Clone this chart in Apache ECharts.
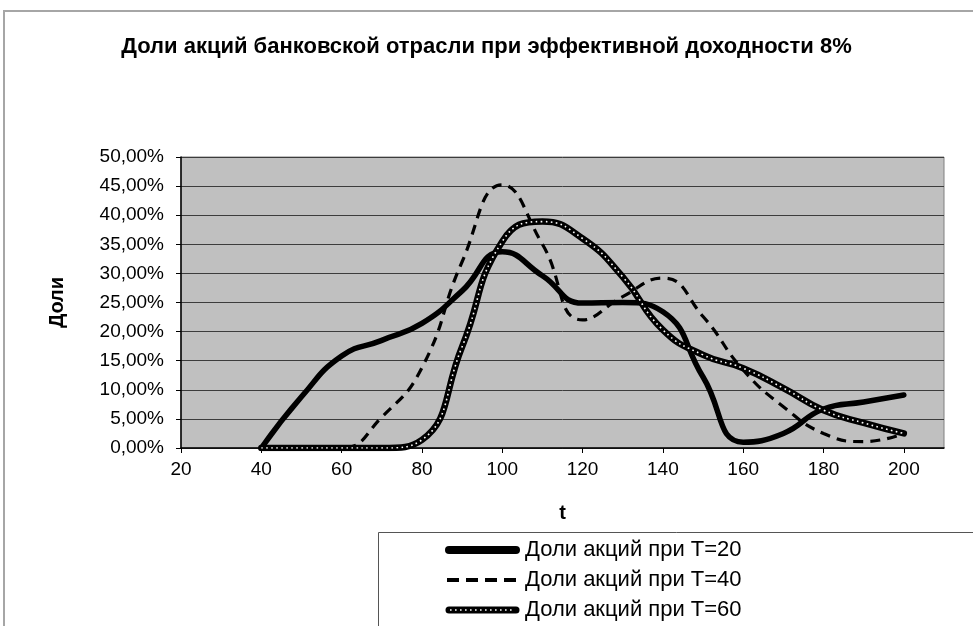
<!DOCTYPE html>
<html>
<head>
<meta charset="utf-8">
<script src="https://cdn.jsdelivr.net/npm/echarts@6/dist/echarts.min.js"></script>
<style>
  html, body { margin: 0; padding: 0; background: #fff; }
  #chart { width: 973px; height: 626px; }
</style>
</head>
<body>
<div id="chart"></div>
<script>
    // t values on the x axis
    const tValues = [40, 50, 60, 70, 80, 90, 100, 110, 120, 130, 140, 150, 160, 170, 180, 190, 200]
    // shares, %
    const shareT20 = [0, 8.8, 15.8, 18.5, 21.4, 27.0, 33.7, 29.6, 24.9, 25.0, 23.4, 12.2, 1.0, 2.5, 6.7, 7.9, 9.1]
    const shareT40 = [0, 0, 0, 5.3, 13.8, 32.0, 45.2, 35.0, 22.0, 26.0, 29.2, 22.6, 13.4, 7.1, 2.5, 1.1, 2.5]
    const shareT60 = [0, 0, 0, 0, 1.4, 17.4, 35.5, 38.9, 36.0, 29.4, 20.3, 16.0, 13.7, 10.3, 6.5, 4.3, 2.5]
    const seriesNames = ['Доли акций при Т=20', 'Доли акций при Т=40', 'Доли акций при Т=60']
    const xTicks = { min: 20, max: 210, interval: 20 }
    const yTicks = { min: 0, max: 50, interval: 5 }

    const pairs = vals => tValues.map((t, i) => [t, vals[i]])
    const font = 'Liberation Sans, Arial, sans-serif'

    // legend icons, drawn as small svg pictures
    const svgIcon = body => 'image://data:image/svg+xml;utf8,' + encodeURIComponent(
        '<svg xmlns="http://www.w3.org/2000/svg" width="75" height="14">' + body + '</svg>')
    const iconT20 = svgIcon('<line x1="4" y1="7" x2="71" y2="7" stroke="#000" stroke-width="8" stroke-linecap="round"/>')
    const iconT40 = svgIcon('<line x1="2" y1="7" x2="73" y2="7" stroke="#000" stroke-width="4" stroke-dasharray="12 7"/>')
    const iconT60 = svgIcon('<line x1="4" y1="7" x2="71" y2="7" stroke="#000" stroke-width="7" stroke-linecap="round"/>' +
        '<line x1="5" y1="7" x2="70" y2="7" stroke="#fff" stroke-width="1.6" stroke-dasharray="1.6 3.4"/>')

    const myChart = echarts.init(document.getElementById('chart'))

    let option = {
        backgroundColor: '#fff',
        animation: false,
        graphic: [
            { type: 'rect', shape: { x: 4, y: 11, width: 1000, height: 700 }, style: { fill: 'none', stroke: '#a6a6a6', lineWidth: 2 }, silent: true },
            { type: 'rect', shape: { x: 378.5, y: 532.5, width: 700, height: 200 }, style: { fill: '#fff', stroke: '#555', lineWidth: 1 }, silent: true, z: -1 }
        ],
        title: {
            text: 'Доли акций банковской отрасли при эффективной доходности 8%',
            left: 'center',
            top: 31,
            textStyle: { fontFamily: font, fontSize: 22, fontWeight: 'bold', color: '#000' }
        },
        legend: {
            orient: 'vertical',
            left: 440,
            top: 534,
            height: 150,
            itemWidth: 75,
            itemHeight: 14,
            itemGap: 8,
            textStyle: { fontFamily: font, fontSize: 22, color: '#000' },
            data: [
                { name: seriesNames[0], icon: iconT20 },
                { name: seriesNames[1], icon: iconT40 },
                { name: seriesNames[2], icon: iconT60 }
            ]
        },
        grid: { left: 181, right: 29, top: 157, bottom: 178, show: true, backgroundColor: '#c0c0c0', borderColor: '#808080', borderWidth: 1 },
        xAxis: {
            type: 'value',
            min: xTicks.min,
            max: xTicks.max,
            interval: xTicks.interval,
            name: 't',
            nameLocation: 'middle',
            nameGap: 55,
            nameTextStyle: { fontFamily: font, fontSize: 20, fontWeight: 'bold', color: '#000' },
            axisLine: { lineStyle: { color: '#000', width: 1.5 } },
            axisTick: { show: true, length: 5, lineStyle: { color: '#000' } },
            axisLabel: { margin: 12, showMaxLabel: false, fontFamily: font, fontSize: 19, color: '#000' },
            splitLine: { show: false }
        },
        yAxis: {
            type: 'value',
            min: yTicks.min,
            max: yTicks.max,
            interval: yTicks.interval,
            name: 'Доли',
            nameLocation: 'middle',
            nameGap: 114,
            nameTextStyle: { fontFamily: font, fontSize: 20, fontWeight: 'bold', color: '#000' },
            axisLine: { show: true, lineStyle: { color: '#000', width: 1.5 } },
            axisTick: { show: true, length: 5, lineStyle: { color: '#000' } },
            axisLabel: {
                margin: 17,
                fontFamily: font,
                fontSize: 19,
                color: '#000',
                formatter: v => v.toFixed(2).replace('.', ',') + '%'
            },
            splitLine: { show: true, lineStyle: { color: '#3c3c3c', width: 1 } }
        },
        series: [
            {
                name: seriesNames[0],
                type: 'line',
                smooth: 0.5,
                symbol: 'none',
                data: pairs(shareT20),
                lineStyle: { color: '#000', width: 5.5, cap: 'round' },
                itemStyle: { color: '#000' },
                z: 3
            },
            {
                name: seriesNames[1],
                type: 'line',
                smooth: 0.5,
                symbol: 'none',
                data: pairs(shareT40),
                lineStyle: { color: '#000', width: 3.2, type: [10, 7] },
                itemStyle: { color: '#000' },
                z: 4
            },
            {
                name: seriesNames[2],
                type: 'line',
                smooth: 0.5,
                symbol: 'none',
                data: pairs(shareT60),
                lineStyle: { color: '#000', width: 6.5, cap: 'round' },
                itemStyle: { color: '#000' },
                z: 5
            },
            {
                // white dots inside the T=60 line
                name: 'T60dots',
                type: 'line',
                smooth: 0.5,
                symbol: 'none',
                data: pairs(shareT60),
                lineStyle: { color: '#fff', width: 1.6, type: [1.6, 3.4] },
                silent: true,
                z: 6
            }
        ]
    };

    myChart.setOption(option);
</script>
</body>
</html>
